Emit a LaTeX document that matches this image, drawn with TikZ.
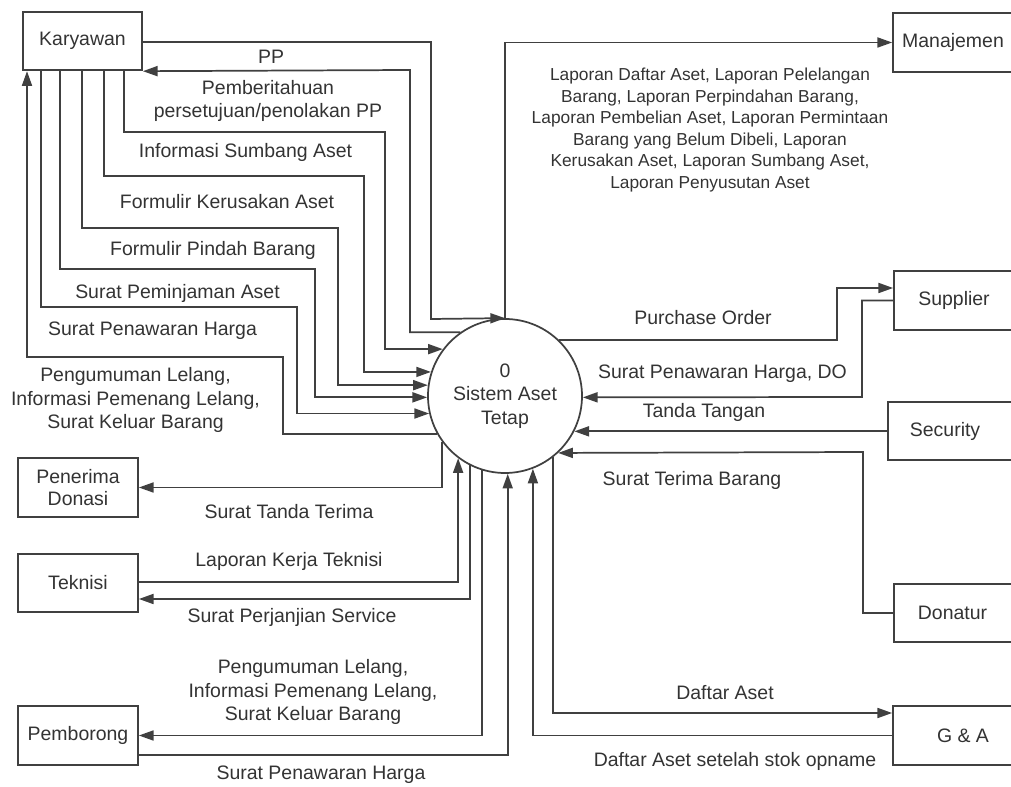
\documentclass[tikz,border=0pt]{standalone}
\usepackage{fontspec}
\setmainfont{Liberation Sans}
\usetikzlibrary{arrows.meta}
\begin{document}
\begin{tikzpicture}[x=0.75pt,y=-0.75pt,
  line/.style={draw=black!75,line width=1.3pt},
  arr/.style={line,-{Triangle[length=11pt,width=7.5pt]}},
  box/.style={draw=black!75,line width=1.3pt,minimum width=90pt,minimum height=44pt,
    inner sep=0pt,text=black!80,align=center,font=\fontsize{14.6}{17.6}\selectfont},
  % entity boxes on the right run past the page edge
  edgebox/.style={box,minimum width=99pt},
  lbl/.style={text=black!80,font=\fontsize{14.6}{17.6}\selectfont,align=center,inner sep=0pt},
  small/.style={text=black!80,font=\fontsize{13}{16.2}\selectfont,align=center,inner sep=0pt}]
\useasboundingbox (0,0) rectangle (1011,787);

% process
\node[circle,draw=black!75,line width=1.3pt,lbl,minimum size=115.5pt,inner sep=0pt] (c) at (505,396)
  {0\\Sistem Aset\\Tetap};

% external entities
\node[box,minimum width=89.25pt] (kar) at (82.5,41) {Karyawan};
\node[edgebox,label={[lbl,xshift=-4.5pt]center:Manajemen}] (man) at (959,42.5) {};
\node[edgebox,label={[lbl,xshift=-4.5pt]center:Supplier}] (sup) at (960,300.5) {};
\node[edgebox,label={[lbl,xshift=-6.7pt]center:Security}] (sec) at (954,431) {};
\node[edgebox,label={[lbl,xshift=-5.6pt]center:Donatur}] (don) at (960,613) {};
\node[edgebox,label={[lbl,xshift=3pt]center:G \& A}] (ga) at (959,735.5) {};
\node[box] (pen) at (78,487.5) {Penerima\\[-1pt]Donasi};
\node[box] (tek) at (78,583) {Teknisi};
\node[box] (pem) at (78,735.5) {Pemborong};

% Karyawan flows
\draw[arr] (kar.east |- 0,42) -| (431,319) -- (c.90);
\draw[arr] (c.125) -| (410,70) -- (kar.south east);
\draw[arr] (kar.south -| 124,0) |- (385,132) |- (c.143);
\draw[arr] (kar.south -| 104,0) |- (364,176) |- (c.162);
\draw[arr] (kar.south -| 82,0) |- (338,228) |- (c.172);
\draw[arr] (kar.south -| 60,0) |- (315,269) |- (c.181);
\draw[arr] (kar.south -| 41,0) |- (297,307) |- (c.193);
\draw[arr] (c.209) -| (283,357) -| (kar.south -| 27,0);

% left-hand entities
\draw[arr] (c.216) |- (pen.east);
\draw[arr] (tek.east |- 0,582) -| (c.233);
\draw[arr] (c.243) |- (tek.east |- 0,599);
\draw[arr] (c.253) |- (pem.east);
\draw[arr] (pem.east |- 0,755) -| (c.272);

% right-hand entities
\draw[arr] (c.90) |- (man.west);
\draw[arr] (c.46) -| (837,288) -- (sup.west |- 0,288);
\draw[arr] (sup.west) -| (862,397) -- (c.359);
\draw[arr] (sec.west |- c.333) -- (c.333);
\draw[arr] (don.west) -| (863,452) -- (c.313);
\draw[arr] (c.308) |- (ga.west |- 0,713);
\draw[arr] (ga.west) -| (c.291);

% flow labels
\node[lbl] (t1) at (271,57) {PP};
\node[lbl] (t2) at (268,101) {Pemberitahuan\\persetujuan/penolakan PP};
\node[lbl] (t3) at (245.5,152) {Informasi Sumbang Aset};
\node[lbl] (t4) at (227,202) {Formulir Kerusakan Aset};
\node[lbl] (t5) at (213,250) {Formulir Pindah Barang};
\node[lbl] (t6) at (177.5,293) {Surat Peminjaman Aset};
\node[lbl] (t7) at (152.5,331) {Surat Penawaran Harga};
\node[lbl] (t8) at (135.5,400) {Pengumuman Lelang,\\Informasi Pemenang Lelang,\\Surat Keluar Barang};
\node[lbl] (t9) at (289,512) {Surat Tanda Terima};
\node[lbl] (t10) at (289,561) {Laporan Kerja Teknisi};
\node[lbl] (t11) at (292,617) {Surat Perjanjian Service};
\node[lbl] (t12) at (313,692) {Pengumuman Lelang,\\Informasi Pemenang Lelang,\\Surat Keluar Barang};
\node[lbl] (t13) at (321,775) {Surat Penawaran Harga};
\node[small] (t14) at (710,130) {Laporan Daftar Aset, Laporan Pelelangan\\Barang, Laporan Perpindahan Barang,\\Laporan Pembelian Aset, Laporan Permintaan\\Barang yang Belum Dibeli, Laporan\\Kerusakan Aset, Laporan Sumbang Aset,\\Laporan Penyusutan Aset};
\node[lbl] (t15) at (703,318) {Purchase Order};
\node[lbl] (t16) at (722.5,374) {Surat Penawaran Harga, DO};
\node[lbl] (t17) at (704,412) {Tanda Tangan};
\node[lbl] (t18) at (692,480) {Surat Terima Barang};
\node[lbl] (t19) at (725,693) {Daftar Aset};
\node[lbl] (t20) at (735,761) {Daftar Aset setelah stok opname};
\end{tikzpicture}
\end{document}
